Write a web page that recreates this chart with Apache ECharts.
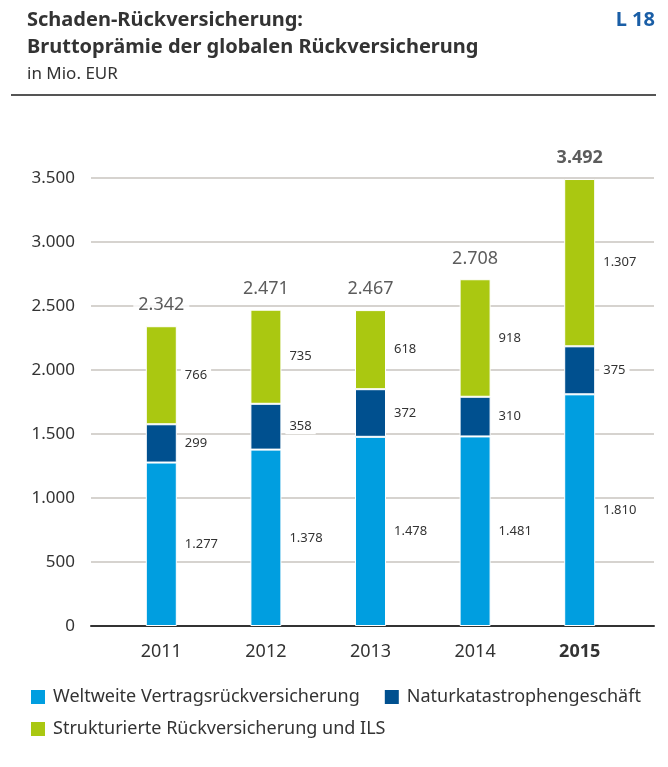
<!DOCTYPE html>
<html>
<head>
<meta charset="utf-8">
<script src="https://cdn.jsdelivr.net/npm/echarts@6/dist/echarts.min.js"></script>
<style>
  html, body { margin: 0; padding: 0; background: #fff; }
  #chart { width: 668px; height: 767px; }
</style>
</head>
<body>
<div id="chart"></div>
<script>
// Daten (in Mio. EUR)
var years = ['2011', '2012', '2013', '2014', '2015'];
var weltweit = [1277, 1378, 1478, 1481, 1810];
var naturkat = [299, 358, 372, 310, 375];
var strukturiert = [766, 735, 618, 918, 1307];
var totals = [2342, 2471, 2467, 2708, 3492];
var yTicks = [0, 500, 1000, 1500, 2000, 2500, 3000, 3500];
var seriesNames = ['Weltweite Vertragsrückversicherung', 'Naturkatastrophengeschäft', 'Strukturierte Rückversicherung und ILS'];

var FONT = '"Noto Sans", sans-serif';

// Tausenderpunkt wie im Original
function fmt(v) {
  return String(v).replace(/\B(?=(\d{3})+(?!\d))/g, '.');
}

var myChart = echarts.init(document.getElementById('chart'));

function segLabel() {
  return {
    show: true,
    position: 'right',
    distance: 4,
    color: '#333',
    fontFamily: FONT,
    fontSize: 13,
    backgroundColor: '#fff',
    padding: [1, 4],
    formatter: function (p) { return fmt(p.value); }
  };
}

function legendBox(names, top) {
  return {
    data: names,
    left: 29,
    top: top,
    padding: 0,
    itemWidth: 16,
    itemHeight: 16,
    itemGap: 23,
    icon: 'rect',
    textStyle: { fontFamily: FONT, fontSize: 18, color: '#333', padding: [0, 0, 0, 2] }
  };
}

var options = {
  backgroundColor: '#fff',
  textStyle: { fontFamily: FONT },
  title: [
    {
      text: 'Schaden-Rückversicherung:\nBruttoprämie der globalen Rückversicherung',
      subtext: 'in Mio. EUR',
      left: 22,
      top: 2,
      itemGap: 5,
      textStyle: { fontFamily: FONT, fontSize: 20, fontWeight: 'bold', color: '#333', lineHeight: 27 },
      subtextStyle: { fontFamily: FONT, fontSize: 17, color: '#333' }
    },
    {
      text: 'L 18',
      right: 8,
      top: 2,
      textStyle: { fontFamily: FONT, fontSize: 20, fontWeight: 'bold', color: '#1a5ea6', lineHeight: 27 }
    }
  ],
  graphic: [
    {
      type: 'line',
      shape: { x1: 11, y1: 95, x2: 656, y2: 95 },
      style: { stroke: '#555', lineWidth: 2 }
    }
  ],
  legend: [
    legendBox(seriesNames.slice(0, 2), 688),
    legendBox(seriesNames.slice(2), 720)
  ],
  grid: [
    { left: 91, right: 14, top: 178, bottom: 141 },
    { left: 109, right: 36, top: 178, bottom: 141 }
  ],
  xAxis: [
    {
      gridIndex: 0,
      type: 'value',
      min: 0,
      max: 1,
      axisLine: { show: true, lineStyle: { color: '#333', width: 2 } },
      axisTick: { show: false },
      axisLabel: { show: false },
      splitLine: { show: false }
    },
    {
      gridIndex: 1,
      type: 'category',
      data: years,
      axisLine: { show: false },
      axisTick: { show: false },
      axisLabel: {
        margin: 17,
        color: '#333',
        fontFamily: FONT,
        fontSize: 18,
        formatter: function (v, i) {
          return i === years.length - 1 ? '{b|' + v + '}' : v;
        },
        rich: { b: { fontWeight: 'bold', fontSize: 18, color: '#333', fontFamily: FONT } }
      }
    }
  ],
  yAxis: [
    {
      gridIndex: 0,
      type: 'value',
      min: yTicks[0],
      max: yTicks[yTicks.length - 1],
      interval: 500,
      axisLine: { show: false },
      axisTick: { show: false },
      axisLabel: {
        margin: 16,
        color: '#333',
        fontFamily: FONT,
        fontSize: 17,
        formatter: function (v) { return fmt(v); }
      },
      splitLine: { lineStyle: { color: '#c9c4bf', width: 1.5 } }
    },
    {
      gridIndex: 1,
      type: 'value',
      min: yTicks[0],
      max: yTicks[yTicks.length - 1],
      interval: 500,
      show: false,
      splitLine: { show: false }
    }
  ],
  series: [
    {
      name: seriesNames[0],
      type: 'bar',
      stack: 'gesamt',
      xAxisIndex: 1,
      yAxisIndex: 1,
      barWidth: 31,
      itemStyle: { color: '#009ee0', borderColor: '#fff', borderWidth: 1 },
      label: segLabel(),
      data: weltweit
    },
    {
      name: seriesNames[1],
      type: 'bar',
      stack: 'gesamt',
      xAxisIndex: 1,
      yAxisIndex: 1,
      barWidth: 31,
      itemStyle: { color: '#00508f', borderColor: '#fff', borderWidth: 1 },
      label: segLabel(),
      data: naturkat
    },
    {
      name: seriesNames[2],
      type: 'bar',
      stack: 'gesamt',
      xAxisIndex: 1,
      yAxisIndex: 1,
      barWidth: 31,
      itemStyle: { color: '#aac811', borderColor: '#fff', borderWidth: 1 },
      label: segLabel(),
      data: strukturiert
    },
    {
      name: 'Summe',
      type: 'scatter',
      xAxisIndex: 1,
      yAxisIndex: 1,
      symbolSize: 0,
      silent: true,
      label: {
        show: true,
        position: 'top',
        distance: 12,
        color: '#333',
        fontFamily: FONT,
        fontSize: 18,
        backgroundColor: '#fff',
        padding: [0, 5],
        formatter: function (p) {
          return p.dataIndex === years.length - 1 ? '{b|' + fmt(p.value[1]) + '}' : fmt(p.value[1]);
        },
        rich: { b: { fontWeight: 'bold', fontSize: 18, color: '#333', fontFamily: FONT } }
      },
      data: totals.map(function (t, i) { return [years[i], t]; })
    }
  ]
};

myChart.setOption(options, true);
</script>
</body>
</html>
